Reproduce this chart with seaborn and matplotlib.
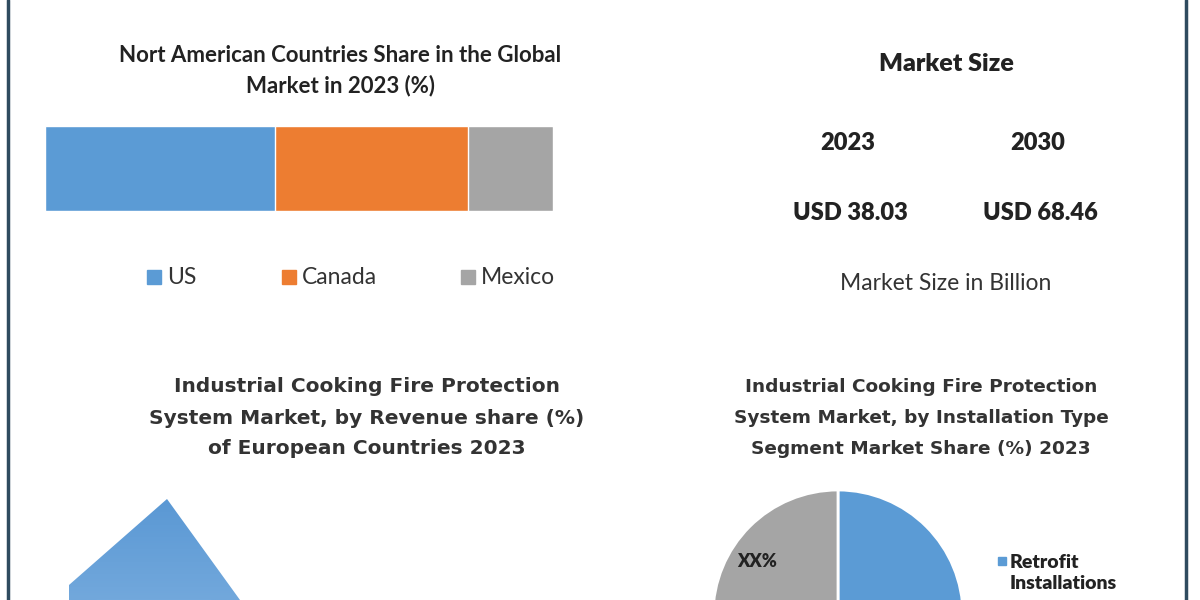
import numpy as np
import pandas as pd
import matplotlib
matplotlib.use("Agg")
import matplotlib.pyplot as plt
import seaborn as sns
from matplotlib.patches import Polygon
from matplotlib.lines import Line2D

# data
countries = ["US", "Canada", "Mexico"]
na_share = [45.3, 38.0, 16.7]
na_colors = ["#5B9BD5", "#ED7D31", "#A5A5A5"]

market_years = ["2023", "2030"]
market_values = ["USD 38.03", "USD 68.46"]

install_types = ["Retrofit\nInstallations", "New\nInstallations"]
install_share = [50, 50]
install_colors = ["#5B9BD5", "#A5A5A5"]

# the european chart is cut off, only one blue shape shows
europe_x = [69, 69, 167, 240]
europe_y = [600, 585, 499, 600]

sns.set_theme(style="white")
plt.rcParams["font.family"] = ["Lato", "DejaVu Sans"]

fig = plt.figure(figsize=(12, 6), dpi=100)
fig.patch.set_facecolor("white")

# overlay axes in pixel coordinates for the texts
ov = fig.add_axes([0, 0, 1, 1])
ov.set_xlim(0, 1200)
ov.set_ylim(600, 0)
ov.axis("off")

# frame lines at both sides
for xx in [8, 1186]:
    fig.add_artist(Line2D([xx / 1200, xx / 1200], [0, 1], color="#2F4B5F", lw=2.5))

# --- north america stacked bar ---
df = pd.DataFrame({"country": countries, "share": na_share})
df["cum"] = df["share"].cumsum()
df["year"] = "2023"

axb = fig.add_axes([45 / 1200, (600 - 211) / 600, 508 / 1200, 85 / 600])
for i in reversed(range(len(df))):
    sns.barplot(data=df.iloc[[i]], x="cum", y="year", color=na_colors[i],
                orient="h", width=1, saturation=1, ax=axb)
axb.set_xlim(0, df["cum"].iloc[-1])
axb.set_ylim(0.5, -0.5)
axb.axis("off")

ov.text(340, 56, "Nort American Countries Share in the Global", ha="center", va="center",
        fontsize=16, fontweight="bold", color="#222222")
ov.text(340, 86, "Market in 2023 (%)", ha="center", va="center",
        fontsize=16, fontweight="bold", color="#222222")

leg_x = [148, 283, 462]
for i, c in enumerate(countries):
    ov.plot(leg_x[i] + 6, 277, marker="s", ms=9.5, color=na_colors[i], ls="none")
    ov.text(leg_x[i] + 19, 277, c, ha="left", va="center", fontsize=16.5, color="#333333")

# --- market size block ---
ov.text(946, 64, "Market Size", ha="center", va="center", fontsize=18,
        fontweight="heavy", color="#222222")
year_x = [848, 1038]
for i in range(2):
    ov.text(year_x[i], 143, market_years[i], ha="center", va="center", fontsize=17,
            fontweight="heavy", color="#222222")
    ov.text(year_x[i] + 2, 213, market_values[i], ha="center", va="center", fontsize=17,
            fontweight="heavy", color="#222222")
ov.text(946, 283, "Market Size in Billion", ha="center", va="center", fontsize=16.5,
        color="#333333")

# --- european countries ---
euro_title = ["Industrial Cooking Fire Protection",
              "System Market, by Revenue share (%)",
              "of European Countries 2023"]
for k, line in enumerate(euro_title):
    ov.text(367, 387 + 31 * k, line, ha="center", va="center", fontsize=14.5,
            fontweight="bold", family="DejaVu Sans", color="#333333")

grad = np.linspace(0, 1, 100).reshape(-1, 1)
cmap = matplotlib.colors.LinearSegmentedColormap.from_list("bl", ["#5A98D4", "#72A8DC"])
img = ov.imshow(grad, cmap=cmap, extent=[min(europe_x), max(europe_x), max(europe_y), min(europe_y)],
                aspect="auto", zorder=2)
shape = Polygon(np.column_stack([europe_x, europe_y]), closed=True, transform=ov.transData)
img.set_clip_path(shape)
ov.set_xlim(0, 1200)
ov.set_ylim(600, 0)

# --- installation type pie ---
inst_title = ["Industrial Cooking Fire Protection",
              "System Market, by Installation Type",
              "Segment Market Share (%) 2023"]
for k, line in enumerate(inst_title):
    ov.text(921, 387 + 31 * k, line, ha="center", va="center", fontsize=13.3,
            fontweight="bold", family="DejaVu Sans", color="#333333")

axp = fig.add_axes([713 / 1200, -140 / 600, 250 / 1200, 250 / 600])
axp.pie(install_share, colors=install_colors, startangle=90, counterclock=False,
        wedgeprops=dict(edgecolor="white", linewidth=2))
axp.set_xlim(-1, 1)
axp.set_ylim(-1, 1)
axp.set_aspect("equal")
axp.text(-0.65, 0.43, "XX%", ha="center", va="center", fontsize=13,
         fontweight="heavy", color="#222222")

ov.plot(1002, 561, marker="s", ms=6, color=install_colors[0], ls="none")
ov.text(1010, 573, install_types[0], ha="left", va="center", fontsize=14,
        fontweight="heavy", color="#222222", linespacing=1.3)
ov.plot(1002, 625, marker="s", ms=6, color=install_colors[1], ls="none")

fig.savefig("out.png", dpi=100, facecolor="white")
